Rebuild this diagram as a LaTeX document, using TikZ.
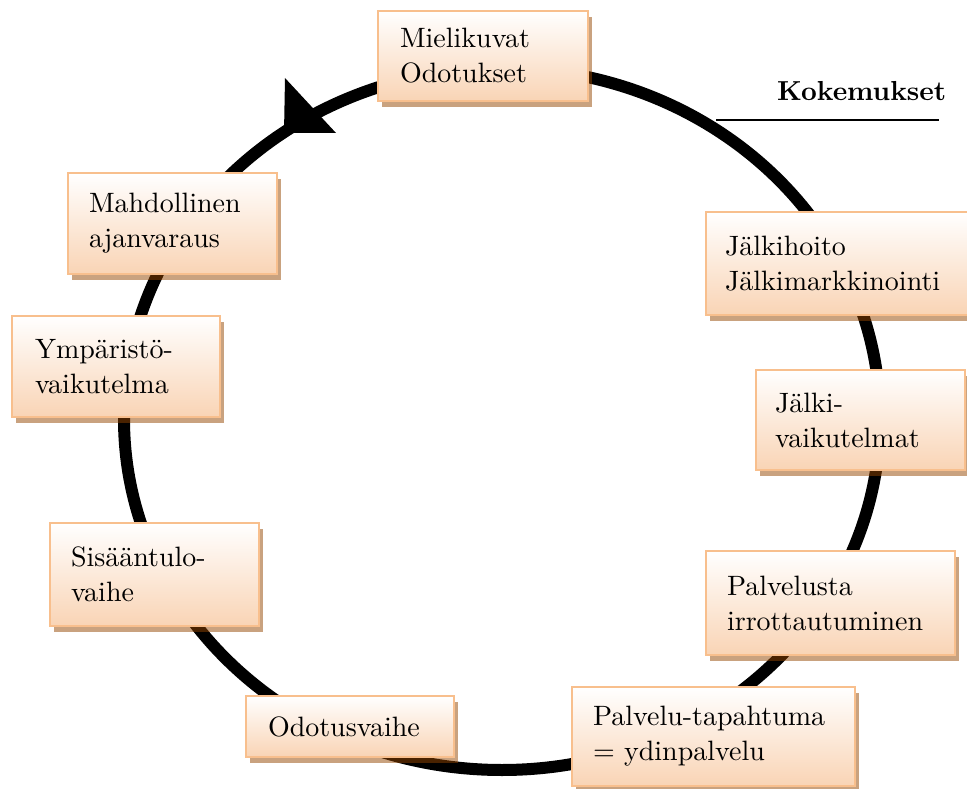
\documentclass[tikz,border=0pt]{standalone}
\usepackage{fontspec}
\setmainfont{lmroman10-regular}[Extension=.otf, BoldFont=lmroman10-bold]
\usetikzlibrary{shadows}
\definecolor{boxedge}{HTML}{F8BF8D}
\definecolor{boxbottom}{HTML}{F9D4B5}
\definecolor{shadowbrown}{HTML}{934500}
\tikzset{
  phase/.style={rectangle, draw=boxedge, line width=2pt,
    top color=white, bottom color=boxbottom,
    drop shadow={shadow xshift=4pt, shadow yshift=-6pt, fill=shadowbrown, opacity=0.5},
    align=left, inner ysep=0pt,
    font=\fontsize{28}{35}\selectfont},
  cycleline/.style={line width=12pt, black},
}
\begin{document}
\begin{tikzpicture}[x=1pt, y=-1pt]
\useasboundingbox (0,0) rectangle (967,789);

% the service cycle
\draw[cycleline] (502,419) ellipse [x radius=378pt, y radius=351pt];
% direction of travel
\fill[black] (285,78) -- (336,133) -- (284,133) -- cycle;

% phases of the service experience
\node[phase, minimum width=210pt, minimum height=90pt,  inner xsep=22pt, text width=166pt] (mielikuvat) at (483,56)    {Mielikuvat\\Odotukset};
\node[phase, minimum width=209pt, minimum height=101pt, inner xsep=21pt, text width=167pt] (ajanvaraus) at (172.5,223.5) {Mahdollinen\\ajanvaraus};
\node[phase, minimum width=208pt, minimum height=101pt, inner xsep=23pt, text width=162pt] (ymparisto)  at (116,366.5)   {Ympäristö-\\vaikutelma};
\node[phase, minimum width=209pt, minimum height=103pt, inner xsep=21pt, text width=167pt] (sisaantulo) at (154.5,574.5) {Sisääntulo-\\vaihe};
\node[phase, minimum width=208pt, minimum height=61pt,  inner xsep=22pt, text width=164pt] (odotus)     at (350,726.5)   {Odotusvaihe};
\node[phase, minimum width=283pt, minimum height=99pt,  inner xsep=21pt, text width=241pt] (ydin)       at (713.5,736.5) {Palvelu-tapahtuma\\= ydinpalvelu};
\node[phase, minimum width=249pt, minimum height=104pt, inner xsep=21pt, text width=207pt] (irrottautuminen) at (830.5,603) {Palvelusta\\irrottautuminen};
\node[phase, minimum width=209pt, minimum height=100pt, inner xsep=19pt, text width=171pt] (jalkivaikutelmat) at (860.5,420) {Jälki-\\vaikutelmat};
\node[phase, minimum width=266pt, minimum height=103pt, inner xsep=19pt, text width=228pt] (jalkihoito) at (839,263.5)   {Jälkihoito\\Jälkimarkkinointi};

% heading with its leader line
\node[anchor=base west, inner sep=0pt, font=\fontsize{27.5}{35}\selectfont\bfseries] (kokemukset) at (777,101) {Kokemukset};
\coordinate (leaderstart) at (716,120);
\coordinate (leaderend) at (939,120);
\draw[line width=2pt] (leaderstart) -- (leaderend);
\end{tikzpicture}
\end{document}
